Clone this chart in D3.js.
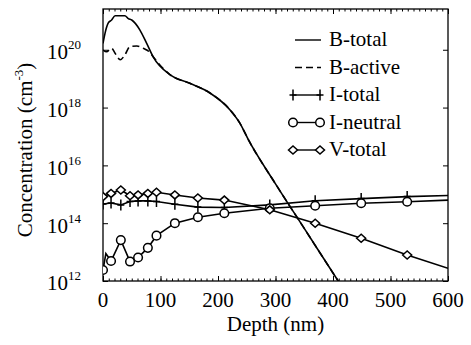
<!DOCTYPE html>
<html>
<head>
<meta charset="utf-8">
<script src="https://cdn.jsdelivr.net/npm/d3@7"></script>
<style>
  body { margin: 0; background: #fff; }
  #wrap { position: relative; width: 471px; height: 345px; }
  #chart { position: absolute; left: 0; top: 0; }
  .lbl { position: absolute; white-space: nowrap; line-height: 1; color: #000;
         font-family: "Liberation Serif", "Times New Roman", serif; font-size: 21px; }
  .sup { position: relative; top: -10px; font-size: 13px; }
</style>
</head>
<body>
<div id="wrap">
<svg id="chart" width="471" height="345"></svg>
</div>
<script>
// depth (nm), concentration (cm^-3)
var bTotal = [
    [0, 1.66e20], [3.5, 3.7e20], [9, 8.3e20], [15, 1.07e21], [21, 1.5e21], [38, 1.5e21],
    [44, 1.2e21], [50, 1.07e21], [64, 4.9e20], [76, 1.66e20], [87, 5.8e19], [117, 1.35e19],
    [151, 6.9e18], [186, 3.2e18], [221, 8.3e17], [238, 2.9e17], [253, 7.6e16], [300, 2.3e15],
    [350, 6.6e13], [409, 1e12], [420, 4.6e11]
];
var bActive = [
    [0, 9.8e19], [6, 8.5e19], [15, 1.12e20], [21, 7.6e19], [30, 4.5e19], [38, 6.6e19],
    [47, 1.29e20], [59, 1.35e20], [70, 1.12e20], [82, 7.9e19], [87, 5.8e19], [117, 1.35e19],
    [151, 6.9e18], [186, 3.2e18], [221, 8.3e17], [238, 2.9e17], [253, 7.6e16], [300, 2.3e15],
    [350, 6.6e13], [409, 1e12], [420, 4.6e11]
];
var iTotal = [
    [0, 4.6e14], [14, 5.0e14], [31, 4.3e14], [47, 5.6e14], [61, 5.9e14], [78, 5.9e14],
    [93, 5.6e14], [125, 4.5e14], [165, 3.6e14], [211, 3.5e14], [290, 4.3e14], [369, 6.0e14],
    [449, 7.1e14], [529, 8.3e14], [600, 9.1e14]
];
var iNeutral = [
    [0, 2.4e12], [5, 8.9e12], [14, 4.9e12], [31, 2.6e13], [47, 4.7e12], [61, 6.5e12],
    [78, 1.4e13], [93, 3.7e13], [125, 1.0e14], [165, 1.6e14], [211, 2.2e14], [290, 3.3e14],
    [369, 4.0e14], [449, 4.9e14], [529, 5.5e14], [600, 6.3e14]
];
var vTotal = [
    [0, 8.3e14], [14, 1.07e15], [31, 1.41e15], [47, 8.9e14], [61, 9.5e14], [78, 1.07e15],
    [93, 1.17e15], [125, 9.5e14], [165, 7.4e14], [211, 6.3e14], [290, 2.9e14], [369, 1.0e14],
    [449, 3.0e13], [529, 7.9e12], [600, 2.75e12]
];
var markerDepths = [0, 14, 31, 47, 61, 78, 93, 125, 165, 211, 290, 369, 449, 529];
var xTicks = [0, 100, 200, 300, 400, 500, 600];
var yTickExps = [12, 14, 16, 18, 20];
var legendNames = ["B-total", "B-active", "I-total", "I-neutral", "V-total"];

var svg = d3.select("#chart");
var wrap = d3.select("#wrap");
var mLeft = 103, mTop = 9, width = 345, height = 272;
var ascent = 17.6; // baseline offset of a 21px line

var x = d3.scaleLinear().domain([0, 600]).range([mLeft, mLeft + width]);
var y = d3.scaleLog().domain([1e12, Math.pow(10, 21.41)]).range([mTop + height, mTop]);

// clip for curves
svg.append("clipPath").attr("id", "clip")
    .append("rect").attr("x", mLeft).attr("y", mTop).attr("width", width).attr("height", height);

// axes: ticks inside on all four sides
function noText(g){ g.selectAll("text").remove(); g.select(".domain").remove(); }

svg.append("g").attr("transform", `translate(0,${mTop + height})`)
    .call(d3.axisTop(x).tickValues(d3.range(0, 601, 10)).tickSize(2.5)).call(noText);
svg.append("g").attr("transform", `translate(0,${mTop + height})`)
    .call(d3.axisTop(x).tickValues(xTicks).tickSize(5)).call(noText);
svg.append("g").attr("transform", `translate(0,${mTop})`)
    .call(d3.axisBottom(x).tickValues(d3.range(0, 601, 10)).tickSize(2.5)).call(noText);
svg.append("g").attr("transform", `translate(0,${mTop})`)
    .call(d3.axisBottom(x).tickValues(xTicks).tickSize(5)).call(noText);

var yTickVals = yTickExps.map(function(e){ return Math.pow(10, e); });
svg.append("g").attr("transform", `translate(${mLeft},0)`)
    .call(d3.axisRight(y).tickValues(yTickVals).tickSize(5)).call(noText);
svg.append("g").attr("transform", `translate(${mLeft + width},0)`)
    .call(d3.axisLeft(y).tickValues(yTickVals).tickSize(5)).call(noText);

svg.selectAll(".tick line").attr("stroke", "#000").attr("stroke-width", 1);

svg.append("rect")
    .attr("x", mLeft).attr("y", mTop).attr("width", width).attr("height", height)
    .attr("fill", "none").attr("stroke", "#000").attr("stroke-width", 1.3);

// text is laid over the svg as html so the serif face is used
wrap.selectAll(".xlab")
    .data(xTicks)
    .enter()
    .append("div")
        .attr("class", "lbl xlab")
        .style("left", function(d){ return x(d) + "px"; })
        .style("top", (mTop + height + 27 - ascent) + "px")
        .style("transform", "translateX(-50%)")
        .text(function(d){ return d; });

wrap.selectAll(".ylab")
    .data(yTickExps)
    .enter()
    .append("div")
        .attr("class", "lbl ylab")
        .style("right", (471 - 81) + "px")
        .style("top", function(d){ return (y(Math.pow(10, d)) + 10 - ascent) + "px"; })
        .html(function(d){ return "10<span class='sup'>" + d + "</span>"; });

wrap.append("div")
    .attr("class", "lbl")
    .style("left", (mLeft + width / 2) + "px")
    .style("top", (mTop + height + 51 - ascent) + "px")
    .style("transform", "translateX(-50%)")
    .text("Depth (nm)");

wrap.append("div")
    .attr("class", "lbl")
    .style("left", "25px")
    .style("top", "150px")
    .style("transform", "translate(-50%,-50%) rotate(-90deg)")
    .html("Concentration (cm<span class='sup' style='top:-9px'>-3</span>)");

// curves
var plot = svg.append("g").attr("clip-path", "url(#clip)");

var series = [
    {data: bTotal, dash: null, marker: null, curve: d3.curveMonotoneX},
    {data: bActive, dash: "7,4", marker: null, curve: d3.curveMonotoneX},
    {data: iTotal, dash: null, marker: "plus", curve: d3.curveLinear},
    {data: iNeutral, dash: null, marker: "circle", curve: d3.curveLinear},
    {data: vTotal, dash: null, marker: "diamond", curve: d3.curveLinear}
];

series.forEach(function(s){
    var line = d3.line()
        .curve(s.curve)
        .x(function(d){ return x(d[0]); })
        .y(function(d){ return y(d[1]); });
    plot.append("path")
        .datum(s.data)
        .attr("d", line)
        .attr("fill", "none")
        .attr("stroke", "#000")
        .attr("stroke-width", 1.6)
        .attr("stroke-dasharray", s.dash);
});

function drawMarker(g, type, cx, cy){
    if (type == "plus") {
        g.append("path")
            .attr("d", `M${cx - 3.5},${cy}H${cx + 3.5}M${cx},${cy - 5.5}V${cy + 5.5}`)
            .attr("stroke", "#000").attr("stroke-width", 1.5).attr("fill", "none");
    } else if (type == "circle") {
        g.append("circle")
            .attr("cx", cx).attr("cy", cy).attr("r", 4.3)
            .attr("fill", "#fff").attr("stroke", "#000").attr("stroke-width", 1.5);
    } else if (type == "diamond") {
        g.append("path")
            .attr("d", `M${cx - 4.5},${cy}L${cx},${cy - 4}L${cx + 4.5},${cy}L${cx},${cy + 4}Z`)
            .attr("fill", "#fff").attr("stroke", "#000").attr("stroke-width", 1.5);
    }
}

series.forEach(function(s){
    if (!s.marker) return;
    s.data.filter(function(d){ return markerDepths.indexOf(d[0]) >= 0; })
        .forEach(function(d){ drawMarker(plot, s.marker, x(d[0]), y(d[1])); });
});

// legend
var legend = svg.append("g");
series.forEach(function(s, i){
    var ly = 40 + i * 27.5;
    var x0 = s.marker ? 292 : 295, x1 = 321;
    legend.append("line")
        .attr("x1", x0).attr("x2", x1).attr("y1", ly).attr("y2", ly)
        .attr("stroke", "#000").attr("stroke-width", 1.4)
        .attr("stroke-dasharray", s.dash);
    if (s.marker) {
        drawMarker(legend, s.marker, x0 + 1, ly);
        drawMarker(legend, s.marker, x1 - 1, ly);
    }
    wrap.append("div")
        .attr("class", "lbl")
        .style("left", "329px")
        .style("top", (ly + 7 - ascent) + "px")
        .text(legendNames[i]);
});
</script>
</body>
</html>
